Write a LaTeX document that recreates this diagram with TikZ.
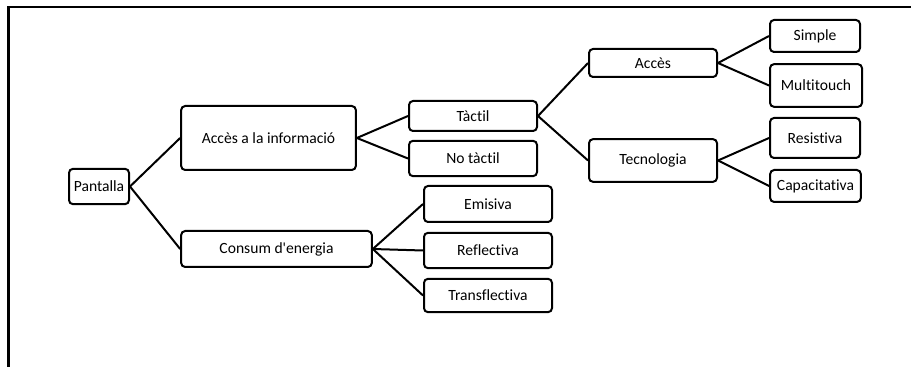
\documentclass[tikz,border=0pt]{standalone}
\usepackage{fontspec}
\setmainfont{Carlito}[Ligatures={TeXOff,CommonOff}]
\usepackage{tikz}

\begin{document}
\begin{tikzpicture}[x=0.75pt, y=-0.75pt]
	\tikzstyle{every node} = [draw, line width=1.5pt, rounded corners=3pt, inner sep=2pt, font=\fontsize{11.7}{14}\selectfont]
	\tikzstyle{branca} = [line width=1.5pt]
	\useasboundingbox (0,0) rectangle (911,367);
	\draw [line width=1.6pt] (8.5,367) -- (8.5,7) -- (911,7);
	\node [minimum width=45pt, minimum height=26.5pt] (Pantalla) at (99,186.5) {Pantalla};
	\node [minimum width=131pt, minimum height=48pt] (Informacio) at (268.5,138) {Accès a la informació};
	\node [minimum width=143pt, minimum height=27pt] (Consum) at (276.5,249) {Consum d'energia};
	\node [minimum width=96pt, minimum height=22.5pt] (Tactil) at (473,116) {Tàctil};
	\node [minimum width=96pt, minimum height=26.5pt] (NoTactil) at (473,158.5) {No tàctil};
	\node [minimum width=96pt, minimum height=27pt] (Emisiva) at (488,204) {Emisiva};
	\node [minimum width=96pt, minimum height=26.5pt] (Reflectiva) at (488,250.5) {Reflectiva};
	\node [minimum width=96pt, minimum height=25pt] (Transflectiva) at (488,295.5) {Transflectiva};
	\node [minimum width=96pt, minimum height=21pt] (Acces) at (653,63) {Accès};
	\node [minimum width=96pt, minimum height=32pt] (Tecnologia) at (653,160.5) {Tecnologia};
	\node [minimum width=67.5pt, minimum height=24pt] (Simple) at (815,36) {Simple};
	\node [minimum width=69pt, minimum height=32pt] (Multitouch) at (816,85.5) {Multitouch};
	\node [minimum width=67.5pt, minimum height=30pt] (Resistiva) at (815,138) {Resistiva};
	\node [minimum width=68pt, minimum height=24pt] (Capacitativa) at (815.5,186) {Capacitativa};
	\draw [branca] (Pantalla.east)--(Informacio.west);
	\draw [branca] (Pantalla.east)--(Consum.west);
	\draw [branca] (Informacio.east)--(Tactil.west);
	\draw [branca] (Informacio.east)--(NoTactil.west);
	\draw [branca] (Consum.east)--(Emisiva.west);
	\draw [branca] (Consum.east)--(Reflectiva.west);
	\draw [branca] (Consum.east)--(Transflectiva.west);
	\draw [branca] (Tactil.east)--(Acces.west);
	\draw [branca] (Tactil.east)--(Tecnologia.west);
	\draw [branca] (Acces.east)--(Simple.west);
	\draw [branca] (Acces.east)--(Multitouch.west);
	\draw [branca] (Tecnologia.east)--(Resistiva.west);
	\draw [branca] (Tecnologia.east)--(Capacitativa.west);
\end{tikzpicture}
\end{document}
